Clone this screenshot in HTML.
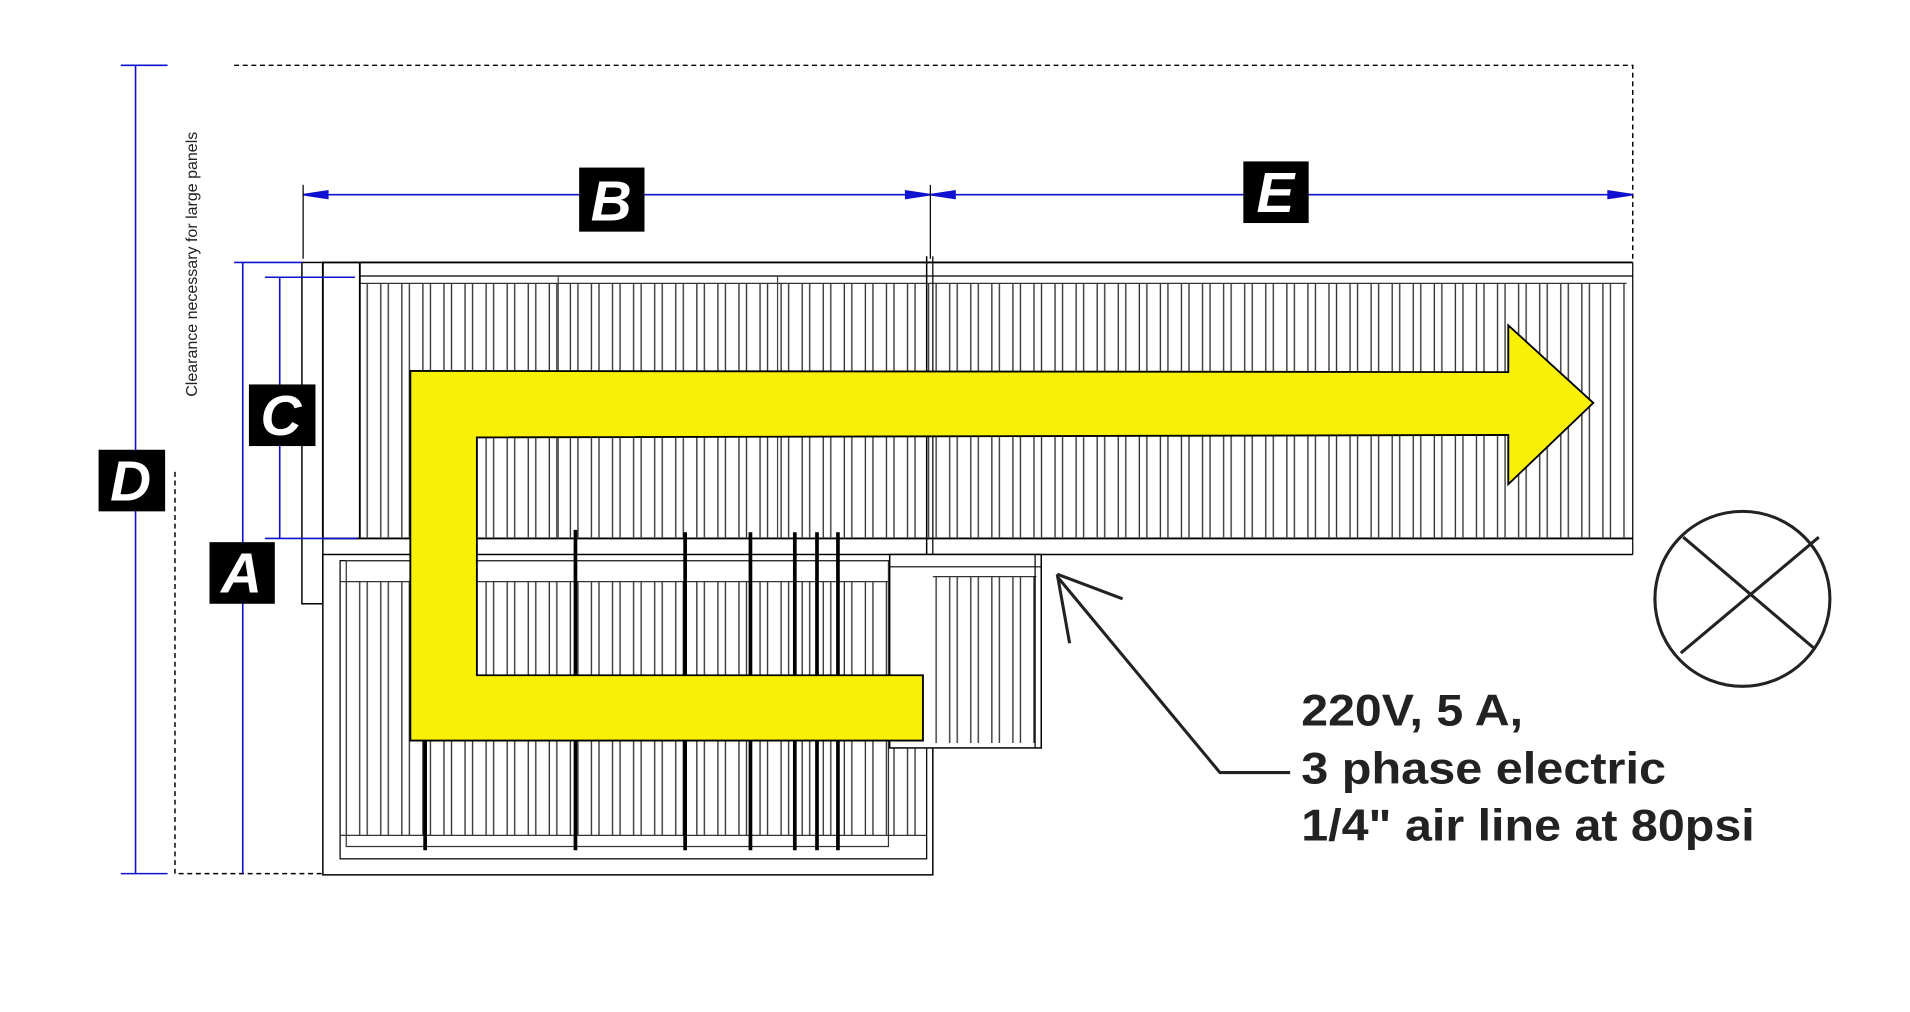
<!DOCTYPE html>
<html><head><meta charset="utf-8">
<style>html,body{margin:0;padding:0;background:#fff;}svg{display:block}</style></head>
<body>
<svg width="1910" height="1012" viewBox="0 0 1550 821.3" preserveAspectRatio="none" xmlns="http://www.w3.org/2000/svg">
<defs>
<pattern id="slat" x="296" y="0" width="17.1" height="900" patternUnits="userSpaceOnUse">
<rect x="2" y="0" width="11" height="900" fill="#fff" stroke="#333" stroke-width="1.1"/>
</pattern>
</defs>
<rect width="1550" height="822" fill="#fff"/>
<g stroke="#000" stroke-width="1.2" stroke-dasharray="4,3" fill="none">
<polyline points="190,53 1325,53 1325,213"/>
<polyline points="142,383 142,709 262,709"/>
</g>
<text transform="translate(160,322) rotate(-90)" font-family="Liberation Sans, sans-serif" font-size="13" fill="#222">Clearance necessary for large panels</text>
<rect x="296" y="230" width="1024" height="206" fill="url(#slat)"/>
<line x1="292" y1="213" x2="1325" y2="213" stroke="#000" stroke-width="1.5"/>
<line x1="292" y1="224" x2="1325" y2="224" stroke="#000" stroke-width="1"/>
<line x1="292" y1="230" x2="1320" y2="230" stroke="#333" stroke-width="1"/>
<line x1="292" y1="437" x2="1325" y2="437" stroke="#000" stroke-width="1.5"/>
<line x1="755" y1="450" x2="1325" y2="450" stroke="#000" stroke-width="1.2"/>
<line x1="1325" y1="213" x2="1325" y2="450" stroke="#000" stroke-width="1"/>
<line x1="453" y1="224" x2="453" y2="437" stroke="#444" stroke-width="1"/>
<line x1="631" y1="224" x2="631" y2="437" stroke="#444" stroke-width="1"/>
<line x1="752" y1="208" x2="752" y2="690" stroke="#000" stroke-width="1.2"/>
<line x1="757" y1="208" x2="757" y2="450" stroke="#000" stroke-width="1"/>
<rect x="245" y="213" width="17" height="277" fill="#fff" stroke="#000" stroke-width="1.2"/>
<rect x="262" y="213" width="30" height="224" fill="#fff" stroke="#000" stroke-width="1.5"/>
<rect x="262" y="450" width="495" height="260" fill="#fff" stroke="#000" stroke-width="1.2"/>
<rect x="281" y="472" width="470" height="206" fill="url(#slat)"/>
<rect x="276" y="455" width="476" height="242" fill="none" stroke="#000" stroke-width="1"/>
<rect x="281" y="455" width="440" height="232" fill="none" stroke="#333" stroke-width="1"/>
<line x1="276" y1="472" x2="752" y2="472" stroke="#333"/>
<line x1="276" y1="678" x2="752" y2="678" stroke="#333"/>
<rect x="722" y="450" width="123" height="157" fill="#fff" stroke="#000" stroke-width="1.2"/>
<rect x="757" y="468" width="84" height="135" fill="url(#slat)"/>
<line x1="722" y1="460" x2="845" y2="460" stroke="#000"/>
<line x1="757" y1="468" x2="841" y2="468" stroke="#333"/>
<line x1="840" y1="450" x2="840" y2="607" stroke="#000"/>
<g stroke="#000" stroke-width="3">
<line x1="345" y1="600" x2="345" y2="690"/>
<line x1="467" y1="430" x2="467" y2="690"/>
<line x1="556" y1="432" x2="556" y2="690"/>
<line x1="609" y1="432" x2="609" y2="690"/>
<line x1="645" y1="432" x2="645" y2="690"/>
<line x1="663" y1="432" x2="663" y2="690"/>
<line x1="680" y1="432" x2="680" y2="690"/>
</g>
<polygon points="333,301 1224,302 1224,264 1293,327 1224,393 1224,353 387,355 387,548 749,548 749,601 333,601" fill="#f8f005" stroke="#000" stroke-width="1.5"/>
<g stroke="#1010d0" stroke-width="1.3" fill="#1010d0">
<line x1="110" y1="53" x2="110" y2="709"/>
<line x1="98" y1="53" x2="136" y2="53"/>
<line x1="98" y1="709" x2="136" y2="709"/>
<line x1="246" y1="158" x2="1325" y2="158"/>
<line x1="197" y1="213" x2="197" y2="709"/>
<line x1="190" y1="213" x2="245" y2="213"/>
<line x1="227" y1="225" x2="227" y2="437"/>
<line x1="215" y1="225" x2="288" y2="225"/>
<line x1="215" y1="437" x2="290" y2="437"/>
<polygon points="246,158 266,155 266,161"/>
<polygon points="755,158 735,155 735,161"/>
<polygon points="755,158 775,155 775,161"/>
<polygon points="1325,158 1305,155 1305,161"/>
</g>
<g stroke="#000" stroke-width="1">
<line x1="246" y1="150" x2="246" y2="210"/>
<line x1="755" y1="150" x2="755" y2="210"/>
</g>
<g font-family="Liberation Sans, sans-serif" font-weight="bold" font-style="italic" font-size="46" fill="#fff" text-anchor="middle">
<rect x="80" y="365" width="54" height="50" fill="#000"/><text x="106" y="406">D</text>
<rect x="470" y="136" width="53" height="52" fill="#000"/><text x="496" y="179">B</text>
<rect x="1009" y="131" width="53" height="50" fill="#000"/><text x="1035" y="172">E</text>
<rect x="170" y="440" width="53" height="50" fill="#000"/><text x="196" y="481">A</text>
<rect x="202" y="312" width="54" height="50" fill="#000"/><text x="228" y="353">C</text>
</g>
<g stroke="#222" stroke-width="2.5" fill="none">
<polyline points="1047,627 990,627 858,468"/>
<line x1="858" y1="466" x2="911" y2="486"/>
<line x1="858" y1="466" x2="868" y2="522"/>
<circle cx="1414" cy="486" r="71"/>
<line x1="1366" y1="436" x2="1472" y2="526"/>
<line x1="1476" y1="436" x2="1364" y2="530"/>
</g>
<g font-family="Liberation Sans, sans-serif" font-weight="bold" font-size="36" fill="#222">
<text x="1056" y="589" textLength="180" lengthAdjust="spacingAndGlyphs">220V, 5 A,</text>
<text x="1056" y="636" textLength="296" lengthAdjust="spacingAndGlyphs">3 phase electric</text>
<text x="1056" y="682" textLength="368" lengthAdjust="spacingAndGlyphs">1/4" air line at 80psi</text>
</g>
</svg>
</body></html>
